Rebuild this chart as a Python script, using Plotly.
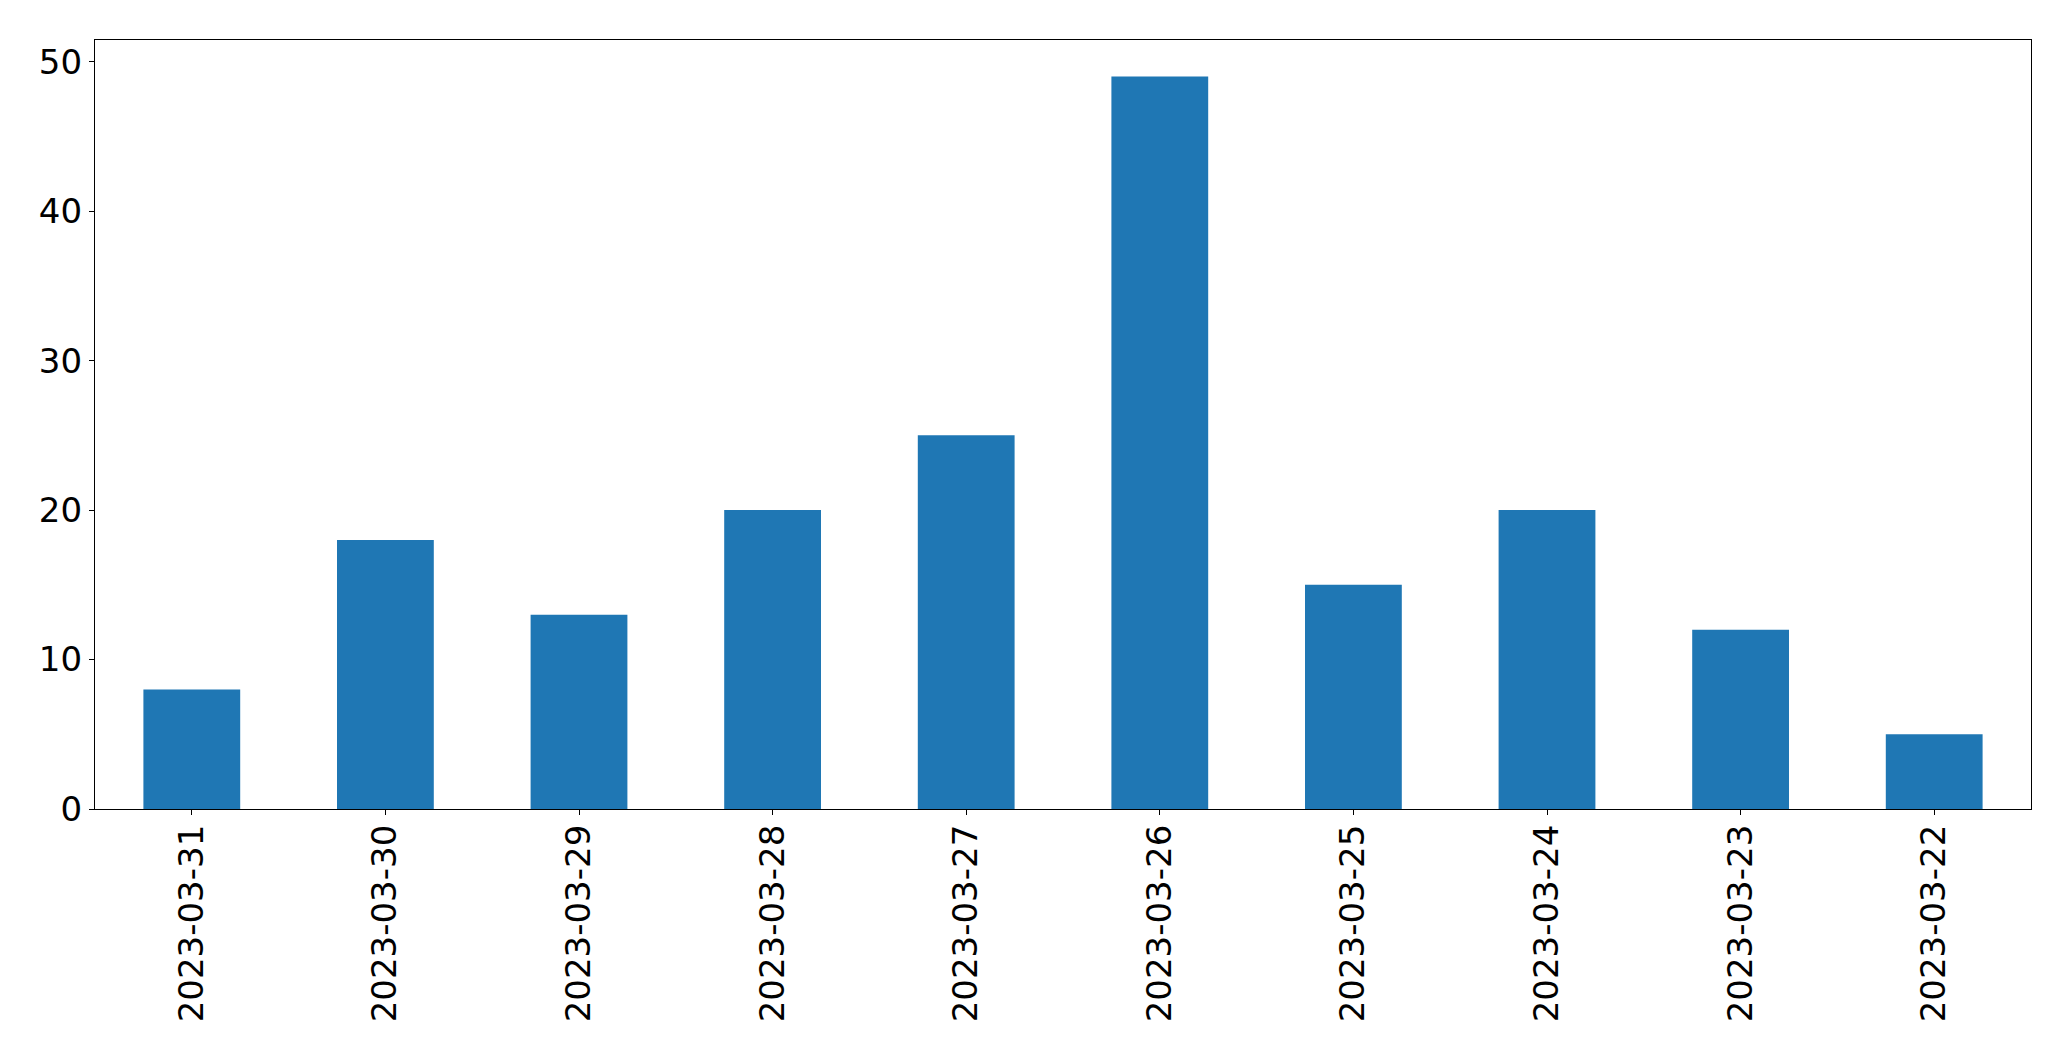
import plotly.graph_objects as go

dates = ["2023-03-31", "2023-03-30", "2023-03-29", "2023-03-28", "2023-03-27",
         "2023-03-26", "2023-03-25", "2023-03-24", "2023-03-23", "2023-03-22"]
counts = [8, 18, 13, 20, 25, 49, 15, 20, 12, 5]
y_ticks = [0, 10, 20, 30, 40, 50]

fig = go.Figure(go.Bar(x=dates, y=counts, width=0.5, marker=dict(color="#1f77b4", line=dict(width=0))))

font = dict(family="DejaVu Sans", size=34, color="black")
fig.update_layout(
    width=2071, height=1061,
    margin=dict(l=94.5, r=39.5, t=39.5, b=252),
    paper_bgcolor="white", plot_bgcolor="white",
    showlegend=False, bargap=0.5,
)
fig.update_xaxes(
    type="category", range=[-0.5, len(dates) - 0.5], tickangle=-90,
    tickfont=font, showline=True, linecolor="black", linewidth=1.3, mirror=True,
    ticks="outside", ticklen=5, tickwidth=1.3, tickcolor="black", showgrid=False,
    ticklabelstandoff=-4,
)
fig.update_yaxes(
    range=[0, max(counts) * 1.05], tickvals=y_ticks, tickfont=font,
    showline=True, linecolor="black", linewidth=1.3, mirror=True,
    ticks="outside", ticklen=5, tickwidth=1.3, tickcolor="black",
    showgrid=False, zeroline=False,
)
fig.write_html("out.html")
